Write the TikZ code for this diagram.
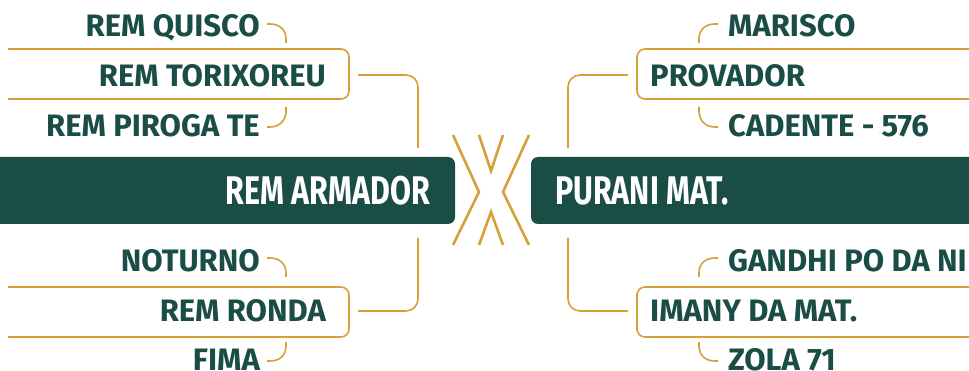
\documentclass[tikz,border=0pt]{standalone}
\usepackage{fontspec}
\setmainfont{Fira Sans}
\definecolor{dgreen}{RGB}{27,77,71}
\definecolor{gold}{RGB}{214,160,56}
\begin{document}
\begin{tikzpicture}[x=1pt,y=-1pt,
  lab/.style={inner sep=0pt,text=dgreen,font=\fontsize{31}{31}\selectfont\bfseries},
  big/.style={inner sep=0pt,text=white,font=\fontsize{40}{40}\selectfont\bfseries},
  gline/.style={draw=gold,line width=1.6pt},
  hook/.style={gline},
  xline/.style={draw=gold,line width=2.6pt,line join=miter}]
\useasboundingbox (0,0) rectangle (969,371);
\begin{scope}
\clip (0,0) rectangle (969,371);
% central boxes
\fill[dgreen,rounded corners=7pt] (-20,157) rectangle (455,224);
\fill[dgreen,rounded corners=7pt] (531,157) rectangle (990,224);
\node[big,anchor=base east] (ca) at (430,205) {\scalebox{0.76}[1]{REM ARMADOR}};
\node[big,anchor=base west] (cb) at (555,205) {\scalebox{0.76}[1]{PURANI MAT.}};
% X mark
\draw[xline] (453,135) -- (479,192) -- (453,245);
\draw[xline] (529,135) -- (503,192) -- (529,245);
\draw[xline] (479,135) -- (491,171) -- (503,135);
\draw[xline] (479,245) -- (491,212) -- (503,245);
% left upper group
\draw[gline,rounded corners=8pt] (8,49) -- (349,49) -- (349,99) -- (8,99);
\node[lab,anchor=base east] (l1) at (326,87) {REM TORIXOREU};
\node[lab,anchor=base east] (l1a) at (260,37) {REM QUISCO};
\node[lab,anchor=base east] (l1b) at (260,137) {REM PIROGA TE};
\coordinate (l1e) at (358,75);
\coordinate (l1t) at (418,148);
\draw[gline,rounded corners=12pt] (l1e) -- (418,75) -- (l1t);
\draw[hook] (267,24) -- (270,24) .. controls (280,24) and (286,30) .. (286,39) -- (286,43);
\draw[hook] (286,107) -- (286,111) .. controls (286,120) and (280,127) .. (270,127) -- (267,127);
% left lower group
\draw[gline,rounded corners=8pt] (8,287) -- (349,287) -- (349,337) -- (8,337);
\node[lab,anchor=base east] (l2) at (326,322) {REM RONDA};
\node[lab,anchor=base east] (l2a) at (260,272) {NOTURNO};
\node[lab,anchor=base east] (l2b) at (260,370) {FIMA};
\coordinate (l2e) at (358,311);
\coordinate (l2t) at (418,238);
\draw[gline,rounded corners=12pt] (l2t) -- (418,311) -- (l2e);
\draw[hook] (267,258) -- (270,258) .. controls (280,258) and (286,264) .. (286,273) -- (286,277);
\draw[hook] (286,342) -- (286,346) .. controls (286,355) and (280,361) .. (270,361) -- (267,361);
% right upper group
\draw[gline,rounded corners=8pt] (990,49) -- (637,49) -- (637,99) -- (990,99);
\node[lab,anchor=base west] (r1) at (650,87) {PROVADOR};
\node[lab,anchor=base west] (r1a) at (728,37) {MARISCO};
\node[lab,anchor=base west] (r1b) at (728,137) {CADENTE - 576};
\coordinate (r1e) at (628,75);
\coordinate (r1t) at (568,148);
\draw[gline,rounded corners=12pt] (r1e) -- (568,75) -- (r1t);
\draw[hook] (718,24) -- (715,24) .. controls (705,24) and (699,30) .. (699,39) -- (699,43);
\draw[hook] (699,107) -- (699,111) .. controls (699,120) and (705,127) .. (715,127) -- (718,127);
% right lower group
\draw[gline,rounded corners=8pt] (990,287) -- (637,287) -- (637,337) -- (990,337);
\node[lab,anchor=base west] (r2) at (650,322) {IMANY DA MAT.};
\node[lab,anchor=base west] (r2a) at (728,272) {GANDHI PO DA NI};
\node[lab,anchor=base west] (r2b) at (728,370) {ZOLA 71};
\coordinate (r2e) at (628,311);
\coordinate (r2t) at (568,238);
\draw[gline,rounded corners=12pt] (r2t) -- (568,311) -- (r2e);
\draw[hook] (718,258) -- (715,258) .. controls (705,258) and (699,264) .. (699,273) -- (699,277);
\draw[hook] (699,342) -- (699,346) .. controls (699,355) and (705,361) .. (715,361) -- (718,361);
\end{scope}
\end{tikzpicture}
\end{document}
